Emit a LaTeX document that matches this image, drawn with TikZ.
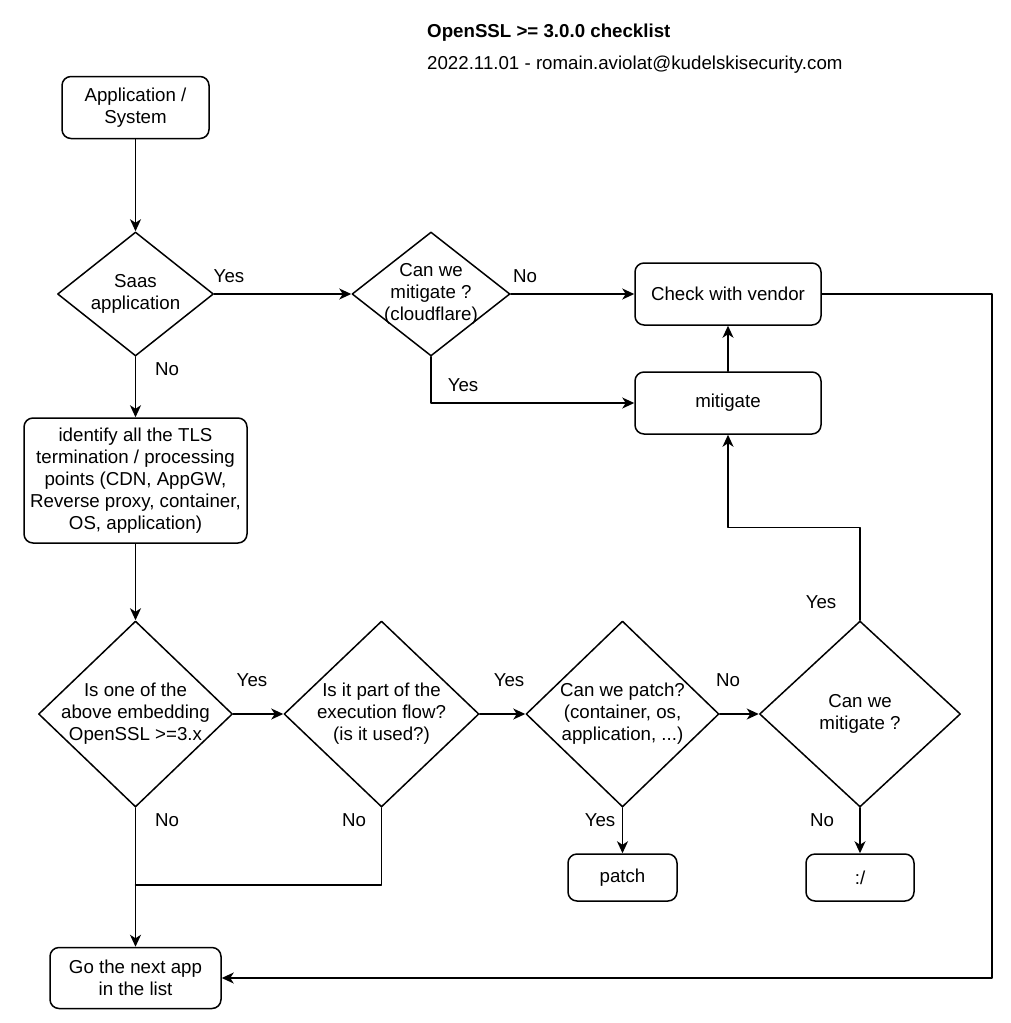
\documentclass[tikz,border=0pt]{standalone}
\usepackage{fontspec}
\setmainfont{Liberation Sans}
\usetikzlibrary{arrows.meta,shapes.geometric}

\begin{document}
\begin{tikzpicture}[line cap=round,line join=round,>={Stealth[length=12pt,width=11pt,inset=3.5pt]},x=1pt,y=-1pt,
		font=\fontsize{18.7}{22}\selectfont,
		roundbox/.style={draw,line width=1.5pt,rounded corners=9pt,align=center,inner sep=0pt},
		decision/.style={draw,diamond,line width=1.5pt,inner sep=0pt},
		flow/.style={->,line width=1.5pt},
		wire/.style={line width=1.5pt}]
		\useasboundingbox (0,0) rectangle (1010,1023);
		\node[anchor=west,inner sep=0pt,font=\fontsize{18.7}{22}\selectfont\bfseries] (title) at (427,33) {OpenSSL >= 3.0.0 checklist};
		\node[anchor=west,inner sep=0pt] (byline) at (427,65) {2022.11.01 - romain.aviolat@kudelskisecurity.com};
		\node[roundbox,minimum width=147,minimum height=62] (app) at (135.5,107.5) {Application /\\System};
		\node[decision,minimum width=156,minimum height=124,label={[align=center]center:Saas\\application}] (saas) at (135.5,294) {};
		\node[decision,minimum width=158,minimum height=124,label={[align=center]center:Can we\\mitigate ?\\(cloudflare)}] (cdn) at (431,294) {};
		\node[roundbox,minimum width=186,minimum height=62] (vendor) at (728,294) {Check with vendor};
		\node[roundbox,minimum width=186,minimum height=62] (mitig) at (728,403) {mitigate};
		\node[roundbox,minimum width=223,minimum height=125] (ident) at (135.5,480.5) {identify all the TLS\\termination / processing\\points (CDN, AppGW,\\Reverse proxy, container,\\OS, application)};
		\node[decision,minimum width=194,minimum height=186,label={[align=center]center:Is one of the\\above embedding\\OpenSSL >=3.x}] (embed) at (135.5,714) {};
		\node[decision,minimum width=195,minimum height=186,label={[align=center]center:Is it part of the\\execution flow?\\(is it used?)}] (used) at (381.5,714) {};
		\node[decision,minimum width=193,minimum height=186,label={[align=center]center:Can we patch?\\(container, os,\\application, ...)}] (patchq) at (622.5,714) {};
		\node[decision,minimum width=201,minimum height=186,label={[align=center]center:Can we\\mitigate ?}] (mitq) at (860,714) {};
		\node[roundbox,minimum width=109,minimum height=47] (patch) at (622.5,877.5) {patch};
		\node[roundbox,minimum width=108,minimum height=47] (sad) at (860,877.5) {:/};
		\node[roundbox,minimum width=171,minimum height=61] (next) at (135.5,978) {Go the next app\\in the list};
		\coordinate (join) at (135.5,885);
		\coordinate (rail) at (992,978);
		\draw[flow] (app) -- (saas);
		\draw[flow] (saas) -- (cdn);
		\draw[flow] (cdn) -- (vendor);
		\draw[flow] (cdn) |- (mitig);
		\draw[flow] (mitig) -- (vendor);
		\draw[flow] (saas) -- (ident);
		\draw[flow] (ident) -- (embed);
		\draw[flow] (embed) -- (used);
		\draw[flow] (used) -- (patchq);
		\draw[flow] (patchq) -- (mitq);
		\draw[flow] (mitq.north) -- ++(0,-93) -| (mitig);
		\draw[flow] (patchq) -- (patch);
		\draw[flow] (mitq) -- (sad);
		\draw[flow] (embed) -- (next);
		\draw[wire] (used) |- (join);
		\draw[flow] (vendor) -| (rail) -- (next);
		\node (saasyes) at (229,276) {Yes};
		\node (cdnno) at (525,276) {No};
		\node (saasno) at (167,369) {No};
		\node (cdnyes) at (463,385) {Yes};
		\node (mitqyes) at (821,602) {Yes};
		\node (embedyes) at (252,680) {Yes};
		\node (usedyes) at (509,680) {Yes};
		\node (patchqno) at (728,680) {No};
		\node (embedno) at (167,820) {No};
		\node (usedno) at (354,820) {No};
		\node (patchqyes) at (600,820) {Yes};
		\node (mitqno) at (822,820) {No};
	\end{tikzpicture}
\end{document}
